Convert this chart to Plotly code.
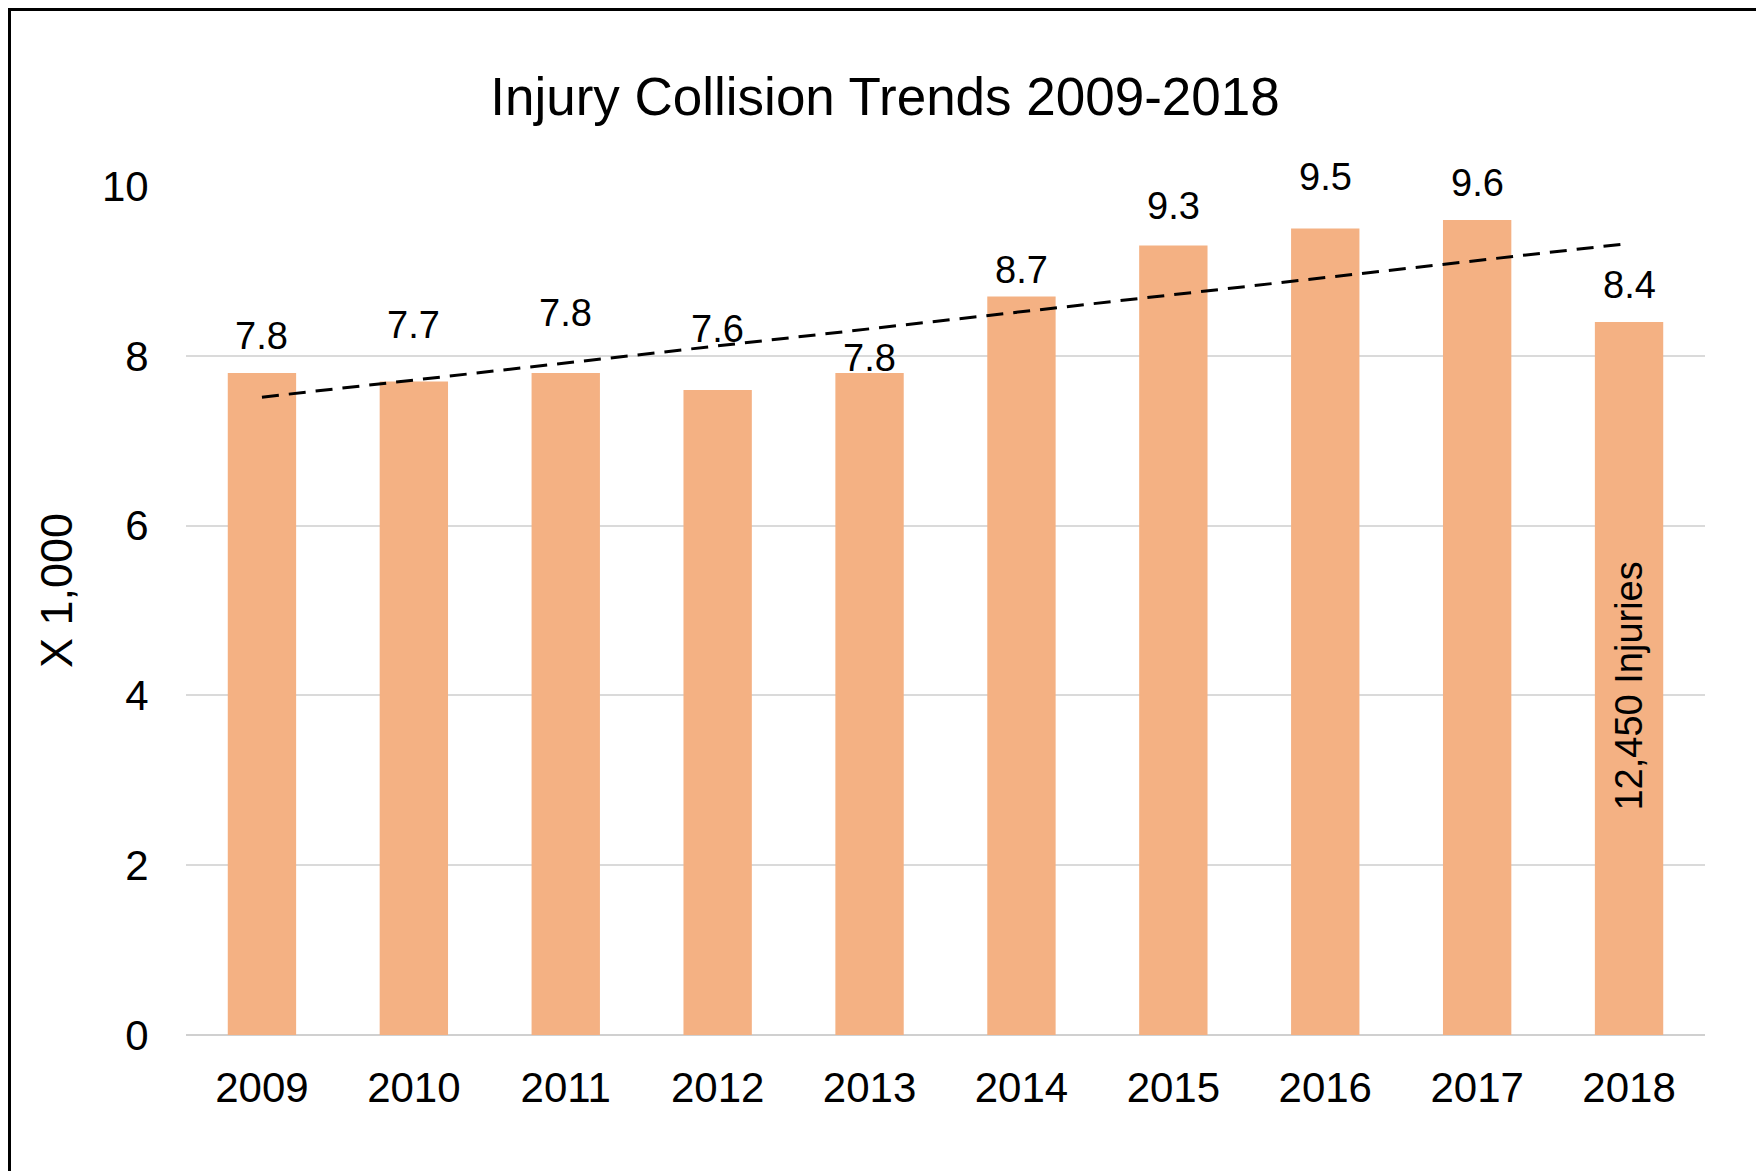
import numpy as np
import plotly.graph_objects as go

years = ["2009", "2010", "2011", "2012", "2013", "2014", "2015", "2016", "2017", "2018"]
collisions_k = [7.8, 7.7, 7.8, 7.6, 7.8, 8.7, 9.3, 9.5, 9.6, 8.4]
y_ticks = [0, 2, 4, 6, 8, 10]
label_offsets_px = [37, 56, 60, 61, 15, 27, 40, 52, 37, 37]
injury_note = "12,450 Injuries"

# page body adds an 8px offset, so the figure is sized/positioned to compensate
W, H = 1756, 1163
L, R, T, B = 178, 59, 178, 136
pw, ph = W - L - R, H - T - B

FONT = "Liberation Sans, Arial, sans-serif"
BAR = "#F4B183"

idx = np.arange(len(years))
slope, intercept = np.polyfit(idx, collisions_k, 1)
trend = slope * idx + intercept

fig = go.Figure()
fig.add_trace(go.Bar(x=years, y=collisions_k, marker=dict(color=BAR, line=dict(width=0)),
                     width=0.45, showlegend=False, hoverinfo="skip"))
fig.add_trace(go.Scatter(x=years, y=trend, mode="lines",
                         line=dict(color="black", width=3, dash="17px,10px"),
                         showlegend=False, hoverinfo="skip"))

for i, (v, off) in enumerate(zip(collisions_k, label_offsets_px)):
    fig.add_annotation(x=i, y=v, text=f"{v:.1f}", showarrow=False, yanchor="middle",
                       yshift=off, font=dict(family=FONT, size=38, color="black"))

fig.add_annotation(x=len(years) - 1, y=collisions_k[-1] / 2, yshift=-8, text=injury_note,
                   textangle=-90, showarrow=False, font=dict(family=FONT, size=38, color="black"))

# y-axis title
fig.add_annotation(xref="paper", yref="paper", x=(48 - L) / pw, y=(H - B - 583) / ph,
                   text="X 1,000", textangle=-90, showarrow=False, xanchor="center", yanchor="middle",
                   font=dict(family=FONT, size=45, color="black"))

# outer frame
fig.add_shape(type="rect", xref="paper", yref="paper",
              x0=(1.5 - L) / pw, x1=(1753 - L) / pw,
              y0=(H - B - 1190) / ph, y1=(H - B - 1.5) / ph,
              line=dict(color="black", width=3), fillcolor="rgba(0,0,0,0)", layer="above")

fig.update_layout(
    width=W, height=H,
    margin=dict(l=L, r=R, t=T, b=B, pad=0),
    paper_bgcolor="white", plot_bgcolor="white",
    title=dict(text="Injury Collision Trends 2009-2018", x=877 / W, xref="container", xanchor="center",
               y=1 - 88 / H, yref="container", yanchor="middle",
               font=dict(family=FONT, size=53, color="black")),
    xaxis=dict(type="category", range=[-0.5, len(years) - 0.5], showgrid=False, showline=False,
               zeroline=False, ticks="outside", ticklen=16, tickcolor="rgba(0,0,0,0)",
               tickfont=dict(family=FONT, size=42, color="black")),
    yaxis=dict(range=[0, 10.002], tickvals=y_ticks, showgrid=True, gridcolor="#DADADA", gridwidth=1.5,
               zeroline=True, zerolinecolor="#D0D0D0", zerolinewidth=2, showline=False,
               ticks="outside", ticklen=28, tickcolor="rgba(0,0,0,0)",
               tickfont=dict(family=FONT, size=42, color="black")),
)

fig.write_html("out.html")
